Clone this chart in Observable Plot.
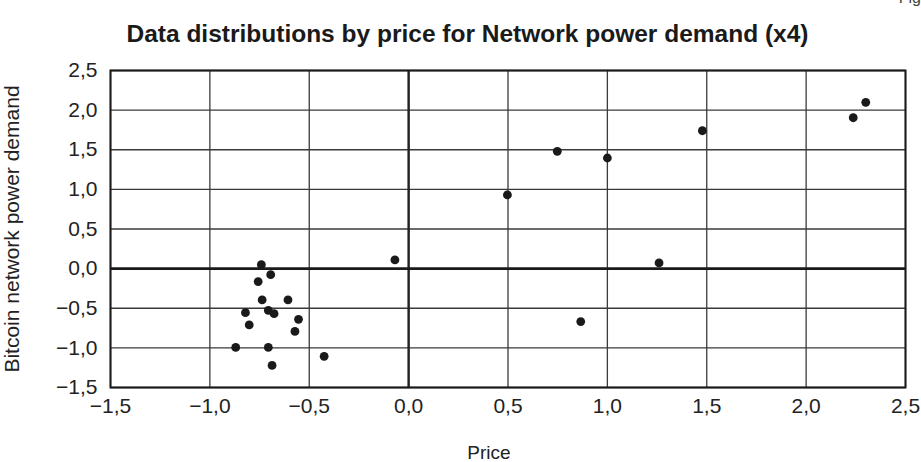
<!DOCTYPE html>
<html>
<head>
<meta charset="utf-8">
<script src="https://cdn.jsdelivr.net/npm/d3@7"></script>
<script src="https://cdn.jsdelivr.net/npm/@observablehq/plot@0.6"></script>
<style>
  html, body { margin: 0; padding: 0; background: #fff; }
  #wrap { position: relative; width: 921px; height: 462px; overflow: hidden; }
  #title {
    position: absolute; left: 0; top: 0; width: 921px; height: 56px;
    font-family: "Liberation Sans Narrow", "Liberation Sans", sans-serif;
    font-weight: bold; font-size: 24.5px; color: #1a1a1a;
    text-align: center; line-height: 68px; padding-left: 14px; box-sizing: border-box;
  }
  #fig {
    position: absolute; right: 0; top: -11px;
    font-family: "Liberation Sans", sans-serif; font-size: 16px; color: #444;
  }
  #chart { position: absolute; left: 0; top: 56px; }
</style>
</head>
<body>
<div id="wrap">
  <div id="fig">Fig</div>
  <div id="title">Data distributions by price for Network power demand (x4)</div>
  <div id="chart"></div>
</div>
<script>
// Standardised price (x) and Bitcoin network power demand (y) per observation
const price = [
  -0.741, -0.694, -0.757, -0.737, -0.607, -0.821, -0.706, -0.677,
  -0.554, -0.802, -0.572, -0.870, -0.706, -0.687, -0.425, -0.069,
  0.497, 0.748, 1.000, 1.260, 1.478, 2.237, 2.300, 0.866
];
const powerDemand = [
  0.050, -0.076, -0.164, -0.395, -0.395, -0.556, -0.527, -0.568,
  -0.640, -0.711, -0.792, -0.994, -0.994, -1.221, -1.107, 0.110,
  0.930, 1.480, 1.396, 0.072, 1.740, 1.904, 2.098, -0.668
];
const xTicks = [-1.5, -1.0, -0.5, 0.0, 0.5, 1.0, 1.5, 2.0, 2.5];
const yTicks = [-1.5, -1.0, -0.5, 0.0, 0.5, 1.0, 1.5, 2.0, 2.5];
const xTitle = "Price";
const yTitle = "Bitcoin network power demand";

const points = price.map((p, i) => ({price: p, demand: powerDemand[i]}));

// Decimal comma and a true minus sign
const fmt = d => d.toFixed(1).replace(".", ",").replace("-", "\u2212");

const chart = Plot.plot({
  width: 921,
  height: 406,
  marginTop: 14,
  marginLeft: 110,
  marginRight: 16,
  marginBottom: 75,
  style: {
    fontFamily: "Liberation Sans, Arial, sans-serif",
    fontSize: "21px",
    color: "#222",
    background: "#fff",
    overflow: "visible"
  },
  x: {domain: [-1.5, 2.5]},
  y: {domain: [-1.5, 2.5]},
  marks: [
    Plot.gridX(xTicks, {stroke: "#3a3a3a", strokeOpacity: 1, strokeWidth: 1.3}),
    Plot.gridY(yTicks, {stroke: "#3a3a3a", strokeOpacity: 1, strokeWidth: 1.3}),
    Plot.ruleX([0], {stroke: "#222", strokeWidth: 2.4}),
    Plot.ruleY([0], {stroke: "#1a1a1a", strokeWidth: 2.6}),
    Plot.frame({stroke: "#1a1a1a", strokeWidth: 2}),
    Plot.axisX(xTicks, {
      tickSize: 0, tickPadding: 11, tickFormat: fmt, fontSize: 21, label: null
    }),
    Plot.axisY(yTicks, {
      tickSize: 0, tickPadding: 13, tickFormat: fmt, fontSize: 21,
      label: yTitle, labelAnchor: "center", labelArrow: "none", labelOffset: 106
    }),
    // x-axis title, set slightly left of the frame centre
    Plot.text([xTitle], {
      frameAnchor: "bottom", text: d => d, dx: -19, dy: 71,
      fontFamily: "Liberation Sans Narrow, Liberation Sans, sans-serif",
      fontSize: 19, fill: "#222"
    }),
    Plot.dot(points, {x: "price", y: "demand", r: 4.4, fill: "#1a1a1a", stroke: "none"})
  ]
});

document.getElementById("chart").appendChild(chart);
</script>
</body>
</html>
